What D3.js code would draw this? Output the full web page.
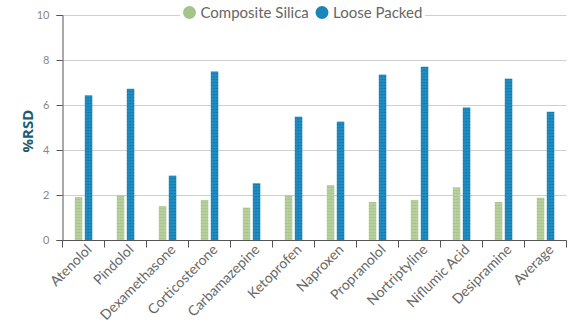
<!DOCTYPE html>
<html>
<head>
<meta charset="utf-8">
<script src="https://cdn.jsdelivr.net/npm/d3@7/dist/d3.min.js"></script>
<style>
  html, body { margin: 0; padding: 0; background: #fff; }
  svg { display: block; font-family: Lato, "Open Sans", sans-serif; }
</style>
</head>
<body>
<svg id="chart" width="577" height="323"></svg>
<script>
// %RSD per compound for the two column types
const compounds = ["Atenolol", "Pindolol", "Dexamethasone", "Corticosterone", "Carbamazepine",
  "Ketoprofen", "Naproxen", "Propranolol", "Nortriptyline", "Niflumic Acid", "Desipramine", "Average"];
const seriesNames = ["Composite Silica", "Loose Packed"];
const compositeSilica = [1.91, 2.0, 1.51, 1.78, 1.44, 2.0, 2.44, 1.69, 1.78, 2.34, 1.69, 1.88];
const loosePacked = [6.43, 6.72, 2.86, 7.49, 2.52, 5.48, 5.26, 7.35, 7.70, 5.89, 7.17, 5.70];
const yTicks = [0, 2, 4, 6, 8, 10];

const seriesValues = [compositeSilica, loosePacked];
const rows = compounds.map((name, i) => ({
  name,
  values: seriesNames.map((s, k) => ({ series: s, value: seriesValues[k][i] }))
}));

const svg = d3.select("#chart");
const plotLeft = 62.5, plotRight = 566.5, plotTop = 15, plotBottom = 240;

const x0 = d3.scaleBand().domain(compounds).range([plotLeft, plotRight]).paddingInner(0).paddingOuter(0);
const x1 = d3.scaleBand().domain(seriesNames).range([12.3, 29.8]).paddingInner(0.25);
const y = d3.scaleLinear().domain([0, 10]).range([plotBottom, plotTop]);

// dotted textures for the bars
const defs = svg.append("defs");
const patGreen = defs.append("pattern").attr("id", "pat-green")
  .attr("width", 3).attr("height", 3).attr("patternUnits", "userSpaceOnUse");
patGreen.append("rect").attr("width", 3).attr("height", 3).attr("fill", "#c3d8ad");
patGreen.append("rect").attr("x", 0.5).attr("y", 0.5).attr("width", 2).attr("height", 2).attr("fill", "#9dbd7e");
const patBlue = defs.append("pattern").attr("id", "pat-blue")
  .attr("width", 3).attr("height", 3).attr("patternUnits", "userSpaceOnUse");
patBlue.append("rect").attr("width", 3).attr("height", 3).attr("fill", "#1f8cc2");
patBlue.append("rect").attr("x", 1).attr("y", 1).attr("width", 1.2).attr("height", 1.2).attr("fill", "#0f6c9c");

const fills = { "Composite Silica": "url(#pat-green)", "Loose Packed": "url(#pat-blue)" };
const legendColors = { "Composite Silica": "#a4c48a", "Loose Packed": "#1a85b9" };

// gridlines
svg.append("g")
  .selectAll("line")
  .data(yTicks.filter(d => d > 0))
  .join("line")
  .attr("x1", plotLeft).attr("x2", plotRight)
  .attr("y1", d => y(d) + 0.5).attr("y2", d => y(d) + 0.5)
  .attr("stroke", "#cfcfcf").attr("stroke-width", 1);

// bars
svg.append("g")
  .selectAll("g")
  .data(rows)
  .join("g")
  .attr("transform", d => `translate(${x0(d.name)},0)`)
  .selectAll("rect")
  .data(d => d.values)
  .join("rect")
  .attr("x", d => x1(d.series))
  .attr("width", x1.bandwidth())
  .attr("y", d => y(d.value))
  .attr("height", d => y(0) - y(d.value))
  .attr("fill", d => fills[d.series]);

// y axis
const yAxis = svg.append("g")
  .attr("transform", `translate(${plotLeft},0)`)
  .call(d3.axisLeft(y).tickValues(yTicks).tickSize(6).tickPadding(7).tickFormat(d3.format("d")));
yAxis.select(".domain").attr("stroke", "#555");
yAxis.selectAll(".tick line").attr("stroke", "#555");
yAxis.selectAll(".tick text").attr("fill", "#888").style("font-size", "11px")
  .style("font-family", "Lato, sans-serif");

// x axis: ticks at band boundaries
const xAxis = svg.append("g").attr("transform", `translate(0,${plotBottom + 0.5})`);
xAxis.append("line").attr("x1", plotLeft).attr("x2", plotRight).attr("stroke", "#555");
xAxis.selectAll("line.tk")
  .data(compounds.map(c => x0(c)).concat([plotRight]))
  .join("line").attr("class", "tk")
  .attr("x1", d => d).attr("x2", d => d)
  .attr("y1", 0).attr("y2", 7)
  .attr("stroke", "#555");
xAxis.selectAll("text")
  .data(compounds)
  .join("text")
  .attr("transform", d => `translate(${x0(d) + x0.bandwidth() / 2 + 9},${10}) rotate(-45)`)
  .attr("text-anchor", "end")
  .attr("fill", "#666")
  .style("font-size", "14px")
  .text(d => d);

// y axis title
svg.append("text")
  .attr("transform", `translate(33,${131}) rotate(-90)`)
  .attr("text-anchor", "middle")
  .attr("fill", "#1b5c74")
  .style("font-size", "15px")
  .style("font-weight", "bold")
  .style("font-family", "\"Open Sans\", sans-serif")
  .text("%RSD");

// legend
const legend = svg.append("g");
legend.append("rect").attr("x", 180).attr("y", 3).attr("width", 245).attr("height", 20).attr("fill", "#fff");
const legendX = [189.5, 322];
const items = legend.selectAll("g.item")
  .data(seriesNames)
  .join("g").attr("class", "item")
  .attr("transform", (d, i) => `translate(${legendX[i]},12.5)`);
items.append("circle").attr("r", 6.5).attr("fill", d => legendColors[d]);
items.append("text")
  .attr("x", 11).attr("dy", "0.35em")
  .attr("fill", "#666")
  .style("font-size", "15px")
  .text(d => d);
</script>
</body>
</html>
